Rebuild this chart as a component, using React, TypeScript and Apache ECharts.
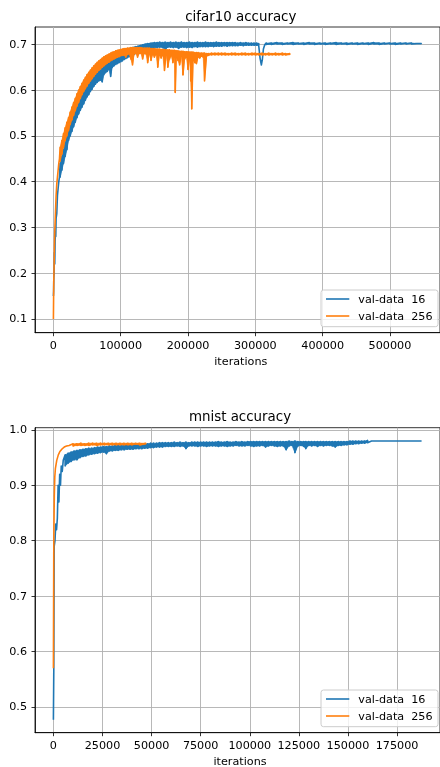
import React, { useEffect, useRef } from "react";
import * as echarts from "echarts";

// ---------- data ----------
const cifarTitle = "cifar10 accuracy";
const mnistTitle = "mnist accuracy";
const xLabelText = "iterations";
const seriesNames = ["val-data  16", "val-data  256"];

const cifarXTicks = [0, 100000, 200000, 300000, 400000, 500000];
const cifarYTicks = [0.1, 0.2, 0.3, 0.4, 0.5, 0.6, 0.7];
const mnistXTicks = [0, 25000, 50000, 75000, 100000, 125000, 150000, 175000];
const mnistYTicks = [0.5, 0.6, 0.7, 0.8, 0.9, 1.0];

// single-valued readings [iteration, accuracy]
const cifar16Start: [number, number][] = [
  [0, 0.15], [300, 0.16], [600, 0.19], [1000, 0.2], [1500, 0.245], [2000, 0.22], [2500, 0.27], [3000, 0.29], [3500, 0.28],
  [4000, 0.32], [5000, 0.33], [6000, 0.37], [7000, 0.385], [8000, 0.4], [9000, 0.41],
];
// noisy stretches read as [iteration, upper edge, lower edge]
const cifar16Band: [number, number, number][] = [
  [10000, 0.44, 0.41], [12500, 0.455, 0.425], [15000, 0.47, 0.44], [17500, 0.485, 0.455], [20000, 0.5, 0.47], [22500, 0.52, 0.49],
  [25000, 0.53, 0.5], [27500, 0.54, 0.51], [30000, 0.55, 0.52], [32500, 0.558, 0.53], [35000, 0.567, 0.54], [37500, 0.575, 0.548],
  [40000, 0.585, 0.556], [42500, 0.592, 0.563], [45000, 0.6, 0.57], [47500, 0.607, 0.578], [50000, 0.613, 0.585], [52500, 0.62, 0.59],
  [55000, 0.626, 0.597], [57500, 0.632, 0.602], [60000, 0.637, 0.608], [62500, 0.641, 0.613], [65000, 0.645, 0.617], [67500, 0.649, 0.62],
  [70000, 0.652, 0.622], [72500, 0.656, 0.618], [75000, 0.659, 0.634], [77500, 0.662, 0.638], [80000, 0.665, 0.641], [82500, 0.668, 0.645],
  [85000, 0.671, 0.63], [87500, 0.673, 0.65], [90000, 0.675, 0.653], [92500, 0.677, 0.656], [95000, 0.679, 0.658], [97500, 0.681, 0.66],
  [100000, 0.683, 0.662], [102500, 0.685, 0.664], [105000, 0.687, 0.667], [107500, 0.688, 0.669], [110000, 0.69, 0.671], [112500, 0.691, 0.673],
  [115000, 0.692, 0.675], [117500, 0.693, 0.676], [120000, 0.694, 0.678], [122500, 0.695, 0.68], [125000, 0.696, 0.682], [127500, 0.697, 0.683],
  [130000, 0.698, 0.684], [132500, 0.699, 0.686], [135000, 0.7, 0.687], [137500, 0.701, 0.688], [140000, 0.702, 0.689], [142500, 0.702, 0.69],
  [145000, 0.703, 0.69], [147500, 0.703, 0.691], [150000, 0.704, 0.692], [154000, 0.704, 0.693], [158000, 0.705, 0.694], [162000, 0.704, 0.693],
  [166000, 0.705, 0.688], [170000, 0.704, 0.694], [174000, 0.705, 0.694], [178000, 0.704, 0.693], [182000, 0.705, 0.694], [186000, 0.704, 0.691],
  [190000, 0.705, 0.694], [194000, 0.704, 0.694], [198000, 0.704, 0.693], [202000, 0.705, 0.694], [206000, 0.704, 0.693], [210000, 0.704, 0.695],
  [214000, 0.705, 0.694], [218000, 0.704, 0.695], [222000, 0.704, 0.695], [226000, 0.705, 0.695], [230000, 0.704, 0.695], [234000, 0.704, 0.696],
  [238000, 0.704, 0.695], [242000, 0.705, 0.696], [246000, 0.704, 0.696], [250000, 0.704, 0.696], [254000, 0.704, 0.697], [258000, 0.704, 0.696],
  [262000, 0.704, 0.697], [266000, 0.704, 0.697], [270000, 0.704, 0.697], [274000, 0.703, 0.697], [278000, 0.704, 0.698], [282000, 0.703, 0.697],
  [286000, 0.704, 0.698], [290000, 0.703, 0.698], [294000, 0.703, 0.698], [298000, 0.703, 0.698], [302000, 0.703, 0.698], [305000, 0.702, 0.698],
];
const cifar16Dip: [number, number][] = [
  [307000, 0.67], [309000, 0.655], [310500, 0.668], [312000, 0.69], [314000, 0.699],
];
const cifar16Late: [number, number, number][] = [
  [316000, 0.703, 0.7], [324000, 0.703, 0.7], [332000, 0.704, 0.701], [340000, 0.703, 0.7], [348000, 0.703, 0.701], [356000, 0.704, 0.7],
  [364000, 0.703, 0.701], [372000, 0.703, 0.7], [380000, 0.704, 0.701], [388000, 0.703, 0.7], [396000, 0.703, 0.701], [404000, 0.703, 0.7],
  [412000, 0.703, 0.701], [420000, 0.704, 0.7], [428000, 0.703, 0.701], [436000, 0.703, 0.7], [444000, 0.703, 0.701], [452000, 0.703, 0.7],
  [460000, 0.703, 0.701], [468000, 0.703, 0.7], [476000, 0.704, 0.701], [484000, 0.703, 0.7], [492000, 0.703, 0.701], [500000, 0.703, 0.701],
  [508000, 0.703, 0.7], [516000, 0.703, 0.701], [524000, 0.703, 0.701], [532000, 0.703, 0.701], [540000, 0.702, 0.701], [547000, 0.702, 0.701],
];

const cifar256Start: [number, number][] = [
  [0, 0.1], [500, 0.18], [1000, 0.215], [1500, 0.26], [2000, 0.29], [2500, 0.31], [3000, 0.33], [3500, 0.35], [4000, 0.37],
  [5000, 0.395], [6000, 0.41], [7000, 0.425], [8000, 0.44], [9000, 0.45],
];
const cifar256Band: [number, number, number][] = [
  [10000, 0.475, 0.445], [12500, 0.49, 0.46], [15000, 0.505, 0.475], [17500, 0.518, 0.49], [20000, 0.53, 0.5], [22500, 0.54, 0.512],
  [25000, 0.552, 0.525], [27500, 0.563, 0.535], [30000, 0.573, 0.545], [32500, 0.582, 0.555], [35000, 0.592, 0.565], [37500, 0.6, 0.573],
  [40000, 0.608, 0.582], [42500, 0.615, 0.59], [45000, 0.622, 0.597], [47500, 0.628, 0.603], [50000, 0.634, 0.609], [52500, 0.639, 0.615],
  [55000, 0.644, 0.62], [57500, 0.649, 0.625], [60000, 0.653, 0.63], [62500, 0.657, 0.635], [65000, 0.661, 0.639], [67500, 0.664, 0.643],
  [70000, 0.667, 0.646], [72500, 0.67, 0.65], [75000, 0.673, 0.653], [77500, 0.675, 0.656], [80000, 0.677, 0.659], [82500, 0.679, 0.661],
  [85000, 0.681, 0.664], [87500, 0.683, 0.666], [90000, 0.684, 0.668], [92500, 0.686, 0.67], [95000, 0.687, 0.672], [97500, 0.688, 0.673],
  [100000, 0.689, 0.675], [102500, 0.69, 0.676], [105000, 0.691, 0.676], [107500, 0.691, 0.672], [110000, 0.692, 0.678], [112500, 0.692, 0.679],
  [115000, 0.693, 0.668], [117500, 0.693, 0.655], [120000, 0.693, 0.679], [122500, 0.693, 0.68], [125000, 0.693, 0.672], [127500, 0.693, 0.68],
  [130000, 0.693, 0.68], [132500, 0.692, 0.668], [135000, 0.692, 0.68], [137500, 0.692, 0.679], [140000, 0.692, 0.66], [142500, 0.692, 0.679],
  [145000, 0.691, 0.665], [147500, 0.691, 0.678], [150000, 0.691, 0.672], [152500, 0.69, 0.678], [155000, 0.69, 0.65], [157500, 0.69, 0.677],
  [160000, 0.689, 0.67], [162500, 0.689, 0.676], [165000, 0.689, 0.643], [167500, 0.688, 0.676], [170000, 0.688, 0.65], [172500, 0.688, 0.668],
  [175000, 0.687, 0.675], [177500, 0.687, 0.66], [180000, 0.687, 0.675], [181000, 0.686, 0.595], [182500, 0.686, 0.672], [185000, 0.686, 0.665],
  [187500, 0.685, 0.655], [190000, 0.685, 0.674], [192500, 0.685, 0.633], [195000, 0.684, 0.668], [197500, 0.684, 0.672], [200000, 0.684, 0.645],
  [202500, 0.683, 0.67], [204000, 0.683, 0.62], [205500, 0.683, 0.559], [207500, 0.683, 0.665], [210000, 0.682, 0.66], [212500, 0.682, 0.658],
  [215000, 0.682, 0.672], [217500, 0.681, 0.67], [220000, 0.681, 0.674], [222500, 0.681, 0.672], [224500, 0.681, 0.62], [227500, 0.68, 0.674],
  [230000, 0.68, 0.676], [235000, 0.681, 0.677], [240000, 0.681, 0.677], [245000, 0.681, 0.677], [250000, 0.681, 0.677], [255000, 0.681, 0.677],
  [260000, 0.68, 0.677], [265000, 0.681, 0.677], [270000, 0.681, 0.677], [275000, 0.68, 0.677], [280000, 0.681, 0.677], [285000, 0.681, 0.677],
  [290000, 0.68, 0.677], [295000, 0.681, 0.677], [300000, 0.681, 0.677], [305000, 0.68, 0.677], [310000, 0.681, 0.677], [315000, 0.68, 0.677],
  [320000, 0.681, 0.677], [325000, 0.68, 0.677], [330000, 0.681, 0.677], [335000, 0.68, 0.677], [340000, 0.681, 0.677], [345000, 0.68, 0.677],
  [351000, 0.68, 0.677],
];

const mnist16Start: [number, number][] = [
  [0, 0.477], [200, 0.57], [400, 0.79], [800, 0.8], [1200, 0.83], [1600, 0.82], [2000, 0.84], [2400, 0.9], [2800, 0.87],
  [3200, 0.92], [3600, 0.9], [4000, 0.935], [4500, 0.925], [5000, 0.945],
];
const mnist16Band: [number, number, number][] = [
  [6000, 0.955, 0.935], [7500, 0.958, 0.94], [9000, 0.96, 0.943], [10500, 0.962, 0.946], [12000, 0.963, 0.946], [13500, 0.964, 0.95],
  [15000, 0.965, 0.952], [16500, 0.966, 0.953], [18000, 0.967, 0.955], [19500, 0.967, 0.956], [21000, 0.968, 0.957], [22500, 0.969, 0.958],
  [24000, 0.969, 0.959], [25500, 0.97, 0.96], [27000, 0.97, 0.957], [28500, 0.971, 0.962], [30000, 0.971, 0.962], [31500, 0.972, 0.963],
  [33000, 0.972, 0.963], [34500, 0.972, 0.964], [36000, 0.973, 0.964], [37500, 0.973, 0.965], [39000, 0.973, 0.965], [40500, 0.974, 0.965],
  [42000, 0.974, 0.966], [43500, 0.974, 0.966], [45000, 0.975, 0.966], [46500, 0.975, 0.967], [48000, 0.975, 0.967], [49500, 0.976, 0.968],
  [51000, 0.976, 0.968], [52500, 0.976, 0.969], [54000, 0.977, 0.969], [55500, 0.977, 0.969], [57000, 0.977, 0.97], [58500, 0.977, 0.97],
  [60000, 0.977, 0.97], [61500, 0.978, 0.97], [63000, 0.977, 0.971], [64500, 0.978, 0.97], [66000, 0.977, 0.971], [67500, 0.978, 0.966],
  [69000, 0.977, 0.971], [70500, 0.978, 0.971], [72000, 0.978, 0.971], [73500, 0.978, 0.97], [75000, 0.978, 0.971], [76500, 0.978, 0.971],
  [78000, 0.978, 0.97], [79500, 0.978, 0.971], [81000, 0.978, 0.971], [82500, 0.978, 0.971], [84000, 0.979, 0.97], [85500, 0.978, 0.971],
  [87000, 0.978, 0.971], [88500, 0.979, 0.97], [90000, 0.978, 0.971], [91500, 0.978, 0.971], [93000, 0.979, 0.972], [94500, 0.978, 0.971],
  [96000, 0.979, 0.971], [97500, 0.978, 0.971], [99000, 0.979, 0.972], [100500, 0.979, 0.971], [102000, 0.979, 0.97], [103500, 0.979, 0.971],
  [105000, 0.979, 0.971], [106500, 0.979, 0.972], [108000, 0.979, 0.969], [109500, 0.979, 0.971], [111000, 0.979, 0.972], [112500, 0.979, 0.971],
  [114000, 0.979, 0.97], [115500, 0.979, 0.971], [117000, 0.979, 0.971], [118500, 0.979, 0.964], [120000, 0.98, 0.971], [121500, 0.979, 0.972],
  [123000, 0.98, 0.959], [124500, 0.979, 0.971], [126000, 0.979, 0.972], [127500, 0.979, 0.97], [128500, 0.979, 0.966], [130000, 0.979, 0.972],
  [131500, 0.979, 0.971], [133000, 0.979, 0.972], [134500, 0.979, 0.97], [136000, 0.979, 0.972], [137500, 0.979, 0.971], [139000, 0.979, 0.972],
  [140500, 0.979, 0.972], [142000, 0.979, 0.971], [143500, 0.979, 0.969], [145000, 0.979, 0.972], [146500, 0.979, 0.972], [148000, 0.979, 0.973],
  [149500, 0.979, 0.973], [151000, 0.98, 0.974], [152500, 0.98, 0.974], [154000, 0.98, 0.975], [155500, 0.98, 0.975], [157000, 0.98, 0.976],
  [158500, 0.98, 0.976], [160000, 0.981, 0.977],
];
const mnist16End: [number, number][] = [
  [162000, 0.98], [166000, 0.98], [175000, 0.98], [187500, 0.98],
];

const mnist256Start: [number, number][] = [
  [0, 0.57], [200, 0.8], [450, 0.88], [700, 0.915], [1000, 0.93], [1700, 0.945], [2500, 0.955], [3300, 0.961], [4500, 0.966],
  [5500, 0.969], [6700, 0.971], [8000, 0.972],
];
const mnist256Band: [number, number, number][] = [
  [10000, 0.975, 0.971], [12000, 0.975, 0.972], [14000, 0.976, 0.972], [16000, 0.975, 0.972], [18000, 0.976, 0.972], [20000, 0.976, 0.973],
  [22000, 0.976, 0.972], [24000, 0.976, 0.973], [26000, 0.976, 0.973], [28000, 0.976, 0.973], [30000, 0.976, 0.973], [32000, 0.976, 0.973],
  [34000, 0.976, 0.973], [36000, 0.976, 0.973], [38000, 0.976, 0.973], [40000, 0.976, 0.973], [42000, 0.976, 0.974], [44000, 0.976, 0.973],
  [47000, 0.976, 0.974],
];

// ---------- build series data from the readings ----------
type Band = [number, number, number][];
const withBand = (band: Band) => band.flatMap(([x, hi, lo]) => [[x, hi], [x, lo]] as [number, number][]);
// consecutive band readings paired into quads for the filled band
const bandQuads = (band: Band) => band.slice(0, -1).map((b, i) => [b[0], b[1], b[2], band[i + 1][0], band[i + 1][1], band[i + 1][2]]);

const cifar16 = [...cifar16Start, ...withBand(cifar16Band), ...cifar16Dip, ...withBand(cifar16Late)];
const cifar256 = [...cifar256Start, ...withBand(cifar256Band)];
const mnist16 = [...mnist16Start, ...withBand(mnist16Band), ...mnist16End];
const mnist256 = [...mnist256Start, ...withBand(mnist256Band)];

// ---------- styling ----------
const C16 = "#1f77b4";
const C256 = "#ff7f0e";
const FONT = "'DejaVu Sans', sans-serif";
const FS = 11.2;
const LW = 1.6;

const fmtInt = (v: number) => String(Math.round(v));
const fmt1 = (v: number) => v.toFixed(1);

function xAxisDef(gridIndex: number, min: number, max: number, ticks: number[]) {
  return {
    type: "value", gridIndex, min, max,
    axisLine: { show: true, onZero: false, lineStyle: { color: "#000", width: 0.8 } },
    axisTick: { show: true, inside: false, length: 3.5, customValues: ticks, lineStyle: { color: "#000", width: 0.8 } },
    axisLabel: { customValues: ticks, formatter: fmtInt, color: "#000", fontSize: FS, fontFamily: FONT, margin: 7.5, showMinLabel: true, showMaxLabel: true },
    splitLine: { show: true, lineStyle: { color: "#b0b0b0", width: 0.9 } },
  };
}
function yAxisDef(gridIndex: number, min: number, max: number, ticks: number[]) {
  return {
    type: "value", gridIndex, min, max,
    axisLine: { show: true, onZero: false, lineStyle: { color: "#000", width: 0.8 } },
    axisTick: { show: true, inside: false, length: 3.5, customValues: ticks, lineStyle: { color: "#000", width: 0.8 } },
    axisLabel: { customValues: ticks, formatter: fmt1, color: "#000", fontSize: FS, fontFamily: FONT, margin: 8, showMinLabel: true, showMaxLabel: true },
    splitLine: { show: true, lineStyle: { color: "#b0b0b0", width: 0.9 } },
  };
}
function lineSeries(name: string, data: [number, number][], color: string, idx: number, z: number) {
  return {
    type: "line", name, data, xAxisIndex: idx, yAxisIndex: idx, showSymbol: false, symbol: "none",
    silent: true, z,
    lineStyle: { color, width: LW, join: "round", cap: "butt" }, itemStyle: { color },
  };
}
function bandSeries(name: string, band: Band, color: string, idx: number, z: number) {
  return {
    type: "custom", name, xAxisIndex: idx, yAxisIndex: idx, silent: true, z, clip: true,
    data: bandQuads(band),
    encode: { x: [0, 3], y: [1, 2, 4, 5] },
    renderItem: (_p: any, api: any) => {
      const a = api.coord([api.value(0), api.value(1)]);
      const b = api.coord([api.value(3), api.value(4)]);
      const c = api.coord([api.value(3), api.value(5)]);
      const d = api.coord([api.value(0), api.value(2)]);
      return { type: "polygon", shape: { points: [a, b, c, d] }, style: { fill: color, stroke: color, lineWidth: 0.6 } };
    },
  };
}
function legendGraphic(top: number) {
  return [
    { type: "rect", shape: { x: 321, y: top, width: 117, height: 36.7, r: 2.5 }, style: { fill: "rgba(255,255,255,0.8)", stroke: "#cccccc", lineWidth: 1 }, z: 100 },
    { type: "line", shape: { x1: 326, y1: top + 9, x2: 349.3, y2: top + 9 }, style: { stroke: C16, lineWidth: LW }, z: 101 },
    { type: "line", shape: { x1: 326, y1: top + 26, x2: 349.3, y2: top + 26 }, style: { stroke: C256, lineWidth: LW }, z: 101 },
    { type: "text", x: 358.3, y: top + 9, style: { text: seriesNames[0], fill: "#000", font: `${FS}px ${FONT}`, textVerticalAlign: "middle" }, z: 101 },
    { type: "text", x: 358.3, y: top + 26, style: { text: seriesNames[1], fill: "#000", font: `${FS}px ${FONT}`, textVerticalAlign: "middle" }, z: 101 },
  ];
}
function centerText(text: string, x: number, y: number, size: number) {
  return { type: "text", x, y, style: { text, fill: "#000", font: `${size}px ${FONT}`, textAlign: "center", textVerticalAlign: "middle" }, z: 50 };
}

export default function App() {
  const ref = useRef<HTMLDivElement>(null);
  useEffect(() => {
    const chart = echarts.init(ref.current!, undefined, { renderer: "svg" });
    chart.setOption({
      animation: false,
      grid: [
        { left: 35, top: 27, width: 412, height: 305.7, show: true, borderColor: "#000", borderWidth: 0.8, backgroundColor: "transparent", containLabel: false },
        { left: 35, top: 427.7, width: 410, height: 305, show: true, borderColor: "#000", borderWidth: 0.8, backgroundColor: "transparent", containLabel: false },
      ],
      xAxis: [
        xAxisDef(0, -27350, 574350, cifarXTicks),
        xAxisDef(1, -9375, 196875, mnistXTicks),
      ],
      yAxis: [
        yAxisDef(0, 0.07, 0.738, cifarYTicks),
        yAxisDef(1, 0.4535, 1.004, mnistYTicks),
      ],
      series: [
        bandSeries(seriesNames[0], cifar16Band, C16, 0, 2),
        bandSeries(seriesNames[0], cifar16Late, C16, 0, 2),
        lineSeries(seriesNames[0], cifar16, C16, 0, 2),
        bandSeries(seriesNames[1], cifar256Band, C256, 0, 3),
        lineSeries(seriesNames[1], cifar256, C256, 0, 3),
        bandSeries(seriesNames[0], mnist16Band, C16, 1, 2),
        lineSeries(seriesNames[0], mnist16, C16, 1, 2),
        bandSeries(seriesNames[1], mnist256Band, C256, 1, 3),
        lineSeries(seriesNames[1], mnist256, C256, 1, 3),
      ],
      graphic: [
        centerText(cifarTitle, 240.8, 16.1, 13.4),
        centerText(xLabelText, 240.8, 361.1, FS),
        centerText(mnistTitle, 240, 416.1, 13.4),
        centerText(xLabelText, 240, 761.1, FS),
        ...legendGraphic(290),
        ...legendGraphic(690),
      ],
    });
    return () => chart.dispose();
  }, []);
  return <div ref={ref} style={{ position: "fixed", left: 0, top: 0, width: 440, height: 767 }} />;
}
